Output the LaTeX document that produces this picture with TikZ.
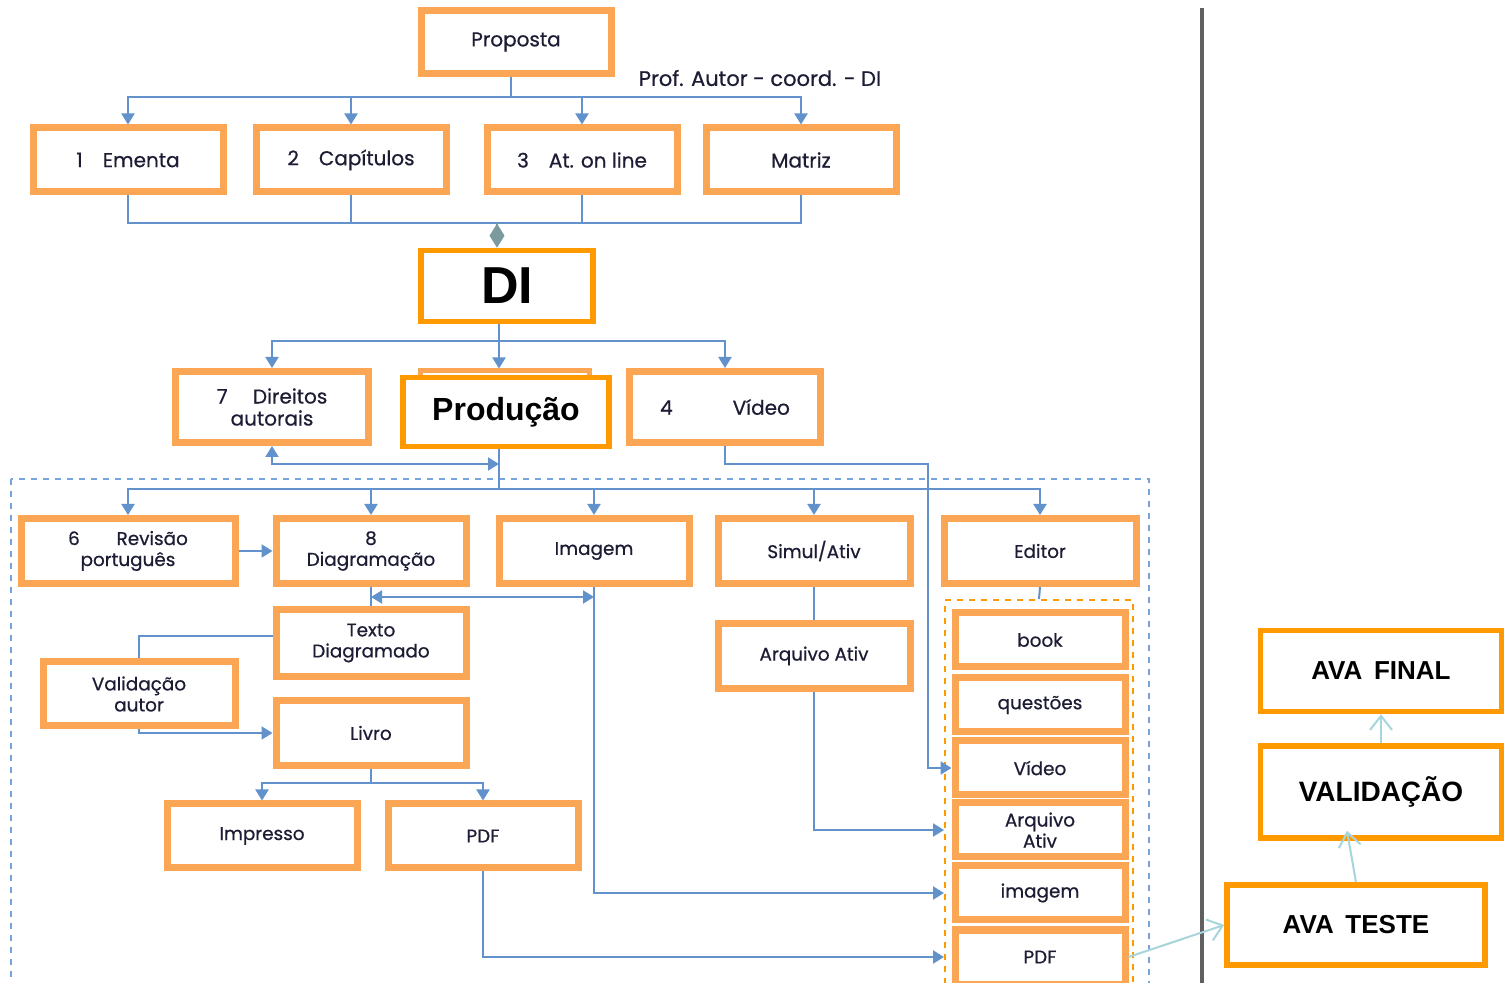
\documentclass[tikz,border=0pt]{standalone}
\usepackage{fontspec}
\setmainfont{Poppins}
\newfontfamily\boxfont{Poppins}[FakeBold=0.6]
\newfontfamily\arialfont{Liberation Sans}
\usetikzlibrary{arrows.meta}
\definecolor{boxorange}{RGB}{250,166,84}
\definecolor{darkorange}{RGB}{255,153,0}
\definecolor{lineblue}{RGB}{98,146,204}
\definecolor{dashblue}{RGB}{118,164,220}
\definecolor{boxtext}{RGB}{28,28,52}
\definecolor{tealline}{RGB}{166,214,220}
\definecolor{diamgrey}{RGB}{122,154,158}
\definecolor{sepgrey}{RGB}{96,96,96}

\begin{document}
\begin{tikzpicture}[x=0.5pt,y=-0.5pt,
    box/.style={draw=boxorange,line width=3.5pt,fill=white,minimum width=95pt,minimum height=32pt,
      align=center,inner sep=1pt,text=boxtext,font=\boxfont\fontsize{9.2}{10.5}\selectfont},
    topbox/.style={box,font=\boxfont\fontsize{10}{11}\selectfont},
    colbox/.style={box,minimum width=85pt,minimum height=27pt},
    bigbox/.style={draw=darkorange,line width=2.8pt,fill=white,align=center,text=black,
      font=\arialfont\bfseries\fontsize{13}{15}\selectfont},
    conn/.style={draw=lineblue,line width=1pt},
    arr/.style={conn,-{Triangle[length=5.5pt,width=6.5pt]}},
    arr2/.style={conn,{Triangle[length=5.5pt,width=6.5pt]}-{Triangle[length=5.5pt,width=6.5pt]}},
    tarr/.style={draw=tealline,line width=1pt,-{Straight Barb[length=7pt,width=11pt]}},
    diam/.style={draw=diamgrey,line width=1pt,-{Diamond[length=12pt,width=7.5pt,fill=diamgrey]}}]
  \clip (0,0) rectangle (1506,983);
  \fill[white] (0,0) rectangle (1506,983);

  % frames
  \draw[dashblue,line width=0.9pt,dashed] (11,479) rectangle (1149,1010);
  \node[draw=darkorange,line width=1pt,dashed,minimum width=94pt,minimum height=205pt] (eframe) at (1039,805) {};
  \draw[sepgrey,line width=1.6pt] (1202,8) -- (1202,990);

  % boxes
  \node[topbox,minimum height=31.5pt] (proposta) at (516,42) {Proposta};
  \node[text=boxtext,font=\boxfont\fontsize{10.5}{12}\selectfont] (proflabel) at (760,78) {Prof. Autor - coord. - DI};
  \node[topbox] (ementa) at (128,160) {1\quad Ementa};
  \node[topbox] (capitulos) at (351,160) {2\quad Capítulos};
  \node[topbox] (atonline) at (582,160) {3\quad At. on line};
  \node[topbox] (matriz) at (801,160) {Matriz};

  \node[bigbox,minimum width=86pt,minimum height=35.5pt,font=\arialfont\bfseries\fontsize{26}{28}\selectfont] (di) at (507,286) {DI};

  \node[topbox,minimum width=96.5pt,minimum height=35.5pt] (direitos) at (272,407) {7\quad\ Direitos\\autorais};
  \node[box,line width=2.5pt,minimum width=84.5pt,minimum height=34pt] (prodback) at (505,405) {};
  \node[bigbox,minimum width=103pt,minimum height=34.5pt,font=\arialfont\bfseries\fontsize{16}{18}\selectfont] (producao) at (506,412) {Produção};
  \node[topbox,minimum width=95.5pt,minimum height=35.5pt] (video) at (725,407) {4\hspace{30pt}Vídeo};

  \node[box,minimum width=107pt,minimum height=32.5pt] (revisao) at (128,551) {6\qquad Revisão\\português};
  \node[box,minimum height=32.5pt] (diagram) at (371,551) {8\\Diagramação};
  \node[box,minimum height=32.5pt] (imagem) at (594,551) {Imagem};
  \node[box,minimum width=96pt,minimum height=32.5pt] (simul) at (814,551) {Simul/Ativ};
  \node[box,minimum width=96pt,minimum height=32.5pt] (editor) at (1040,551) {Editor};

  \node[box,minimum height=33.5pt] (texto) at (371,643) {Texto\\Diagramado};
  \node[box,minimum width=96pt] (validaut) at (139,694) {Validação\\autor};
  \node[box,minimum height=32.5pt] (livro) at (371,733) {Livro};
  \node[box] (impresso) at (262,836) {Impresso};
  \node[box] (pdf) at (483,836) {PDF};
  \node[box,minimum width=96pt,minimum height=32.5pt] (arqativ) at (814,656) {Arquivo Ativ};

  \node[colbox] (ebook) at (1040,640) {book};
  \node[colbox] (equestoes) at (1040,705) {questões};
  \node[colbox] (evideo) at (1040,768) {Vídeo};
  \node[colbox] (earq) at (1040,830) {Arquivo\\Ativ};
  \node[colbox] (eimagem) at (1040,893) {imagem};
  \node[colbox] (epdf) at (1040,957) {PDF};

  \node[bigbox,minimum width=120.5pt,minimum height=40.5pt] (avafinal) at (1381,671) {AVA\hspace{0.45em}FINAL};
  \node[bigbox,minimum width=120.5pt,minimum height=46pt,font=\arialfont\bfseries\fontsize{14}{16}\selectfont] (validacao) at (1381,792) {VALIDAÇÃO};
  \node[bigbox,minimum width=129pt,minimum height=40pt] (avateste) at (1356,925) {AVA\hspace{0.45em}TESTE};

  % Proposta to the first row
  \coordinate (bus1) at (511,97);
  \draw[conn] (proposta.south -| bus1) -- (bus1);
  \foreach \n in {ementa,capitulos,atonline,matriz}
    \draw[arr] (bus1) -| (\n.north);
  \coordinate (bus2) at (497,223);
  \foreach \n in {ementa,capitulos,atonline,matriz}
    \draw[conn] (\n.south) |- (bus2);
  \draw[diam] (bus2) -- (bus2 |- di.north);

  % DI
  \coordinate (bus3) at (499,341);
  \draw[conn] (di.south -| bus3) -- (bus3);
  \draw[arr] (bus3) -| (direitos.north);
  \draw[arr] (bus3) -| (video.north);
  \draw[arr] (bus3) -- (bus3 |- prodback.north);

  % Produção
  \coordinate (bus4) at (499,489);
  \coordinate (dirturn) at (499,464);
  \draw[conn] (producao.south -| bus4) -- (bus4);
  \draw[arr2] (direitos.south) |- (dirturn);
  \foreach \n in {revisao,diagram,imagem,simul,editor}
    \draw[arr] (bus4) -| (\n.north);
  \coordinate (vturn) at (928,464);
  \draw[arr] (video.south) |- (vturn) |- (evideo.west);

  % second row
  \draw[arr] (revisao.east) -- (diagram.west);
  \draw[conn] (diagram.south) -- (texto.north);
  \coordinate (dmid) at (371,597);
  \coordinate (imid) at (594,597);
  \draw[arr2] (dmid) -- (imid);
  \draw[arr] (imagem.south) |- (eimagem.west -| eframe.west);
  \draw[conn] ([yshift=3.5pt]texto.west) -| (validaut.north);
  \draw[arr] (validaut.south) |- (livro.west);
  \coordinate (bus5) at (371,783);
  \draw[conn] (livro.south) -- (bus5);
  \draw[arr] (bus5) -| (impresso.north);
  \draw[arr] (bus5) -| (pdf.north);
  \draw[arr] (pdf.south) |- (epdf.west -| eframe.west);
  \draw[conn] (simul.south) -- (arqativ.north);
  \draw[arr] (arqativ.south) |- (earq.west -| eframe.west);
  \draw[conn] (editor.south) -- (eframe.north);

  % AVA
  \draw[tarr] (epdf.east) -- (avateste.west);
  \draw[tarr] (avateste.north) -- ([xshift=-17pt,yshift=5pt]validacao.south);
  \draw[tarr] (validacao.north) -- (avafinal.south);
\end{tikzpicture}
\end{document}
